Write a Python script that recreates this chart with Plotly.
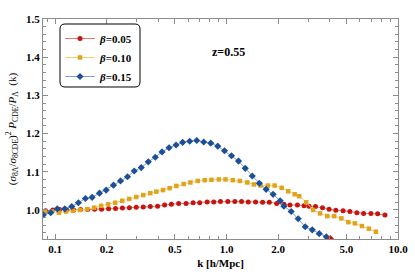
import plotly.graph_objects as go

# ---- data ----
k_b005 = [0.0883, 0.0971, 0.1065, 0.1171, 0.1284, 0.1411, 0.1549, 0.1702, 0.1868, 0.2053,
          0.2253, 0.2472, 0.2716, 0.2977, 0.3271, 0.3594, 0.3965, 0.4357, 0.4770, 0.5261,
          0.5811, 0.6386, 0.6979, 0.7711, 0.8426, 0.9223, 1.0176, 1.1182, 1.2237, 1.3393,
          1.4774, 1.6236, 1.7771, 1.9607, 2.1637, 2.3452, 2.5914, 2.8315, 3.0289, 3.3020,
          3.6276, 3.9646, 4.3392, 4.7863, 5.2410, 5.7567, 6.3002, 6.9520, 7.6068, 8.3946]
r_b005 = [0.998, 1.000, 1.001, 1.000, 1.000, 1.001, 1.001, 1.002, 1.002, 1.003,
          1.004, 1.005, 1.006, 1.007, 1.008, 1.009, 1.010, 1.013, 1.015, 1.017,
          1.017, 1.019, 1.019, 1.021, 1.021, 1.022, 1.022, 1.022, 1.022, 1.021,
          1.021, 1.020, 1.020, 1.017, 1.015, 1.013, 1.013, 1.011, 1.010, 1.009,
          1.006, 1.002, 0.999, 0.998, 0.996, 0.993, 0.991, 0.991, 0.990, 0.987]

k_b010 = [0.0874, 0.0960, 0.1055, 0.1160, 0.1274, 0.1400, 0.1539, 0.1690, 0.1858, 0.2041,
          0.2243, 0.2465, 0.2709, 0.2977, 0.3271, 0.3594, 0.3897, 0.4264, 0.4661, 0.5100,
          0.5626, 0.6160, 0.6795, 0.7465, 0.8172, 0.9016, 0.9866, 1.0885, 1.1963, 1.3214,
          1.4443, 1.5806, 1.7437, 1.9087, 2.0970, 2.2887, 2.4981, 2.6546, 2.9170, 3.1969,
          3.5126, 3.8705, 4.2416, 4.6744, 5.1344, 5.6040, 6.1618, 6.7672, 7.4344]
r_b010 = [0.994, 0.996, 0.993, 0.996, 0.998, 1.000, 1.002, 1.006, 1.011, 1.015,
          1.019, 1.024, 1.029, 1.034, 1.039, 1.044, 1.048, 1.052, 1.057, 1.063,
          1.068, 1.072, 1.076, 1.078, 1.079, 1.080, 1.080, 1.078, 1.076, 1.072,
          1.067, 1.064, 1.064, 1.064, 1.058, 1.049, 1.041, 1.036, 1.020, 1.000,
          0.991, 0.984, 0.984, 0.978, 0.968, 0.965, 0.958, 0.951, 0.943]

k_b015 = [0.0854, 0.0944, 0.1031, 0.1140, 0.1252, 0.1369, 0.1504, 0.1646, 0.1816, 0.1987,
          0.2193, 0.2409, 0.2647, 0.2897, 0.3184, 0.3499, 0.3845, 0.4207, 0.4623, 0.5080,
          0.5551, 0.6100, 0.6703, 0.7366, 0.8093, 0.8894, 0.9734, 1.0696, 1.1752, 1.2862,
          1.4134, 1.5534, 1.7021, 1.8705, 2.0555, 2.1605, 2.3836, 2.6190, 2.8780, 3.1623,
          3.4745, 3.8190, 4.0300]
r_b015 = [0.987, 0.993, 1.003, 1.003, 1.009, 1.019, 1.030, 1.033, 1.044, 1.052,
          1.065, 1.076, 1.087, 1.102, 1.111, 1.126, 1.138, 1.152, 1.163, 1.170,
          1.177, 1.180, 1.182, 1.178, 1.175, 1.167, 1.155, 1.142, 1.128, 1.109,
          1.089, 1.070, 1.054, 1.041, 1.024, 1.010, 0.996, 0.977, 0.956, 0.948,
          0.938, 0.930, 0.925]

series_names = ["<i>β</i>=0.05", "<i>β</i>=0.10", "<i>β</i>=0.15"]
x_tickvals = [0.1, 0.2, 0.5, 1.0, 2.0, 5.0, 10.0]
x_ticktext = ["0.1", "0.2", "0.5", "1.0", "2.0", "5.0", "10.0"]
x_minor = [0.09, 0.3, 0.4, 0.6, 0.7, 0.8, 0.9, 3.0, 4.0, 6.0, 7.0, 8.0, 9.0]
y_tickvals = [1.0, 1.1, 1.2, 1.3, 1.4, 1.5]
y_ticktext = ["1.0", "1.1", "1.2", "1.3", "1.4", "1.5"]

SERIF = "Liberation Serif"
FRAME = "#8c8c8c"

fig = go.Figure()

blue_marker_colors = ["#1c4f96"] * (len(k_b015) - 1) + ["#c8140e"]

fig.add_trace(go.Scatter(
    x=k_b005, y=r_b005, mode="lines+markers", name=series_names[0],
    line=dict(color="#e27a72", width=1),
    marker=dict(symbol="circle", size=5, color="#c8140e"),
))
fig.add_trace(go.Scatter(
    x=k_b010, y=r_b010, mode="lines+markers", name=series_names[1],
    line=dict(color="#efcc7a", width=1),
    marker=dict(symbol="square", size=4.5, color="#e0a319"),
))
fig.add_trace(go.Scatter(
    x=k_b015, y=r_b015, mode="lines+markers", name=series_names[2],
    line=dict(color="#7e9fcb", width=1),
    marker=dict(symbol="diamond", size=5.5, color=blue_marker_colors),
))

# plot area in px: x 43..398, y 19..239
W, H = 415, 280
L, R, T, B = 43, 17, 19, 41
pw, ph = W - L - R, H - T - B

def px_x(p):
    return (p - L) / pw

def px_y(p):
    return (H - B - p) / ph

# rounded legend box
x0, x1, y0, y1, rad = 60, 140, 24, 87, 5
def P(xp, yp):
    return f"{px_x(xp):.5f},{px_y(yp):.5f}"
path = (f"M {P(x0 + rad, y0)} L {P(x1 - rad, y0)} Q {P(x1, y0)} {P(x1, y0 + rad)} "
        f"L {P(x1, y1 - rad)} Q {P(x1, y1)} {P(x1 - rad, y1)} "
        f"L {P(x0 + rad, y1)} Q {P(x0, y1)} {P(x0, y1 - rad)} "
        f"L {P(x0, y0 + rad)} Q {P(x0, y0)} {P(x0 + rad, y0)} Z")
fig.add_shape(type="path", path=path, xref="paper", yref="paper",
              line=dict(color="black", width=1), fillcolor="white", layer="above")

fig.add_annotation(text="<b>z=0.55</b>", xref="paper", yref="paper",
                   x=px_x(228), y=px_y(43), showarrow=False,
                   font=dict(family=SERIF, size=12, color="black"))

axis_common = dict(
    showline=True, linecolor=FRAME, linewidth=1, mirror="allticks",
    ticks="inside", ticklen=5, tickcolor=FRAME, tickwidth=1,
    showgrid=False, zeroline=False, automargin=False,
    tickfont=dict(family=SERIF, size=11, color="black", weight="bold"),
)

fig.update_xaxes(
    type="log", range=[-1.07, 1.0],
    tickvals=x_tickvals, ticktext=x_ticktext,
    minor=dict(tickvals=x_minor, ticks="inside", ticklen=3, tickcolor=FRAME, showgrid=False),
    title=dict(text="<b>k [h/Mpc]</b>", font=dict(family=SERIF, size=11, color="black"), standoff=5),
    **axis_common,
)
fig.update_yaxes(
    range=[0.924, 1.5],
    tickvals=y_tickvals, ticktext=y_ticktext,
    minor=dict(dtick=0.02, ticks="inside", ticklen=3, tickcolor=FRAME, showgrid=False),
    title=dict(text="(<i>σ</i><sub>8Λ</sub>/<i>σ</i><sub>8CDE</sub>)<sup>2</sup> <i>P</i><sub>CDE</sub>/<i>P</i><sub>Λ</sub>  (k)",
               font=dict(family=SERIF, size=11, color="black"), standoff=7),
    **axis_common,
)

fig.update_layout(
    width=W, height=H,
    margin=dict(l=L, r=R, t=T, b=B, pad=0, autoexpand=False),
    paper_bgcolor="white", plot_bgcolor="white",
    showlegend=True,
    legend=dict(x=px_x(60), y=px_y(24), xanchor="left", yanchor="top",
                bgcolor="rgba(0,0,0,0)", borderwidth=0,
                font=dict(family=SERIF, size=11, color="black", weight="bold"),
                itemwidth=30, tracegroupgap=0),
)

fig.write_html(
    "out.html",
    config={"displayModeBar": False},
    post_script="document.body.style.margin='0';document.body.style.padding='0';document.body.style.overflow='hidden';",
)
